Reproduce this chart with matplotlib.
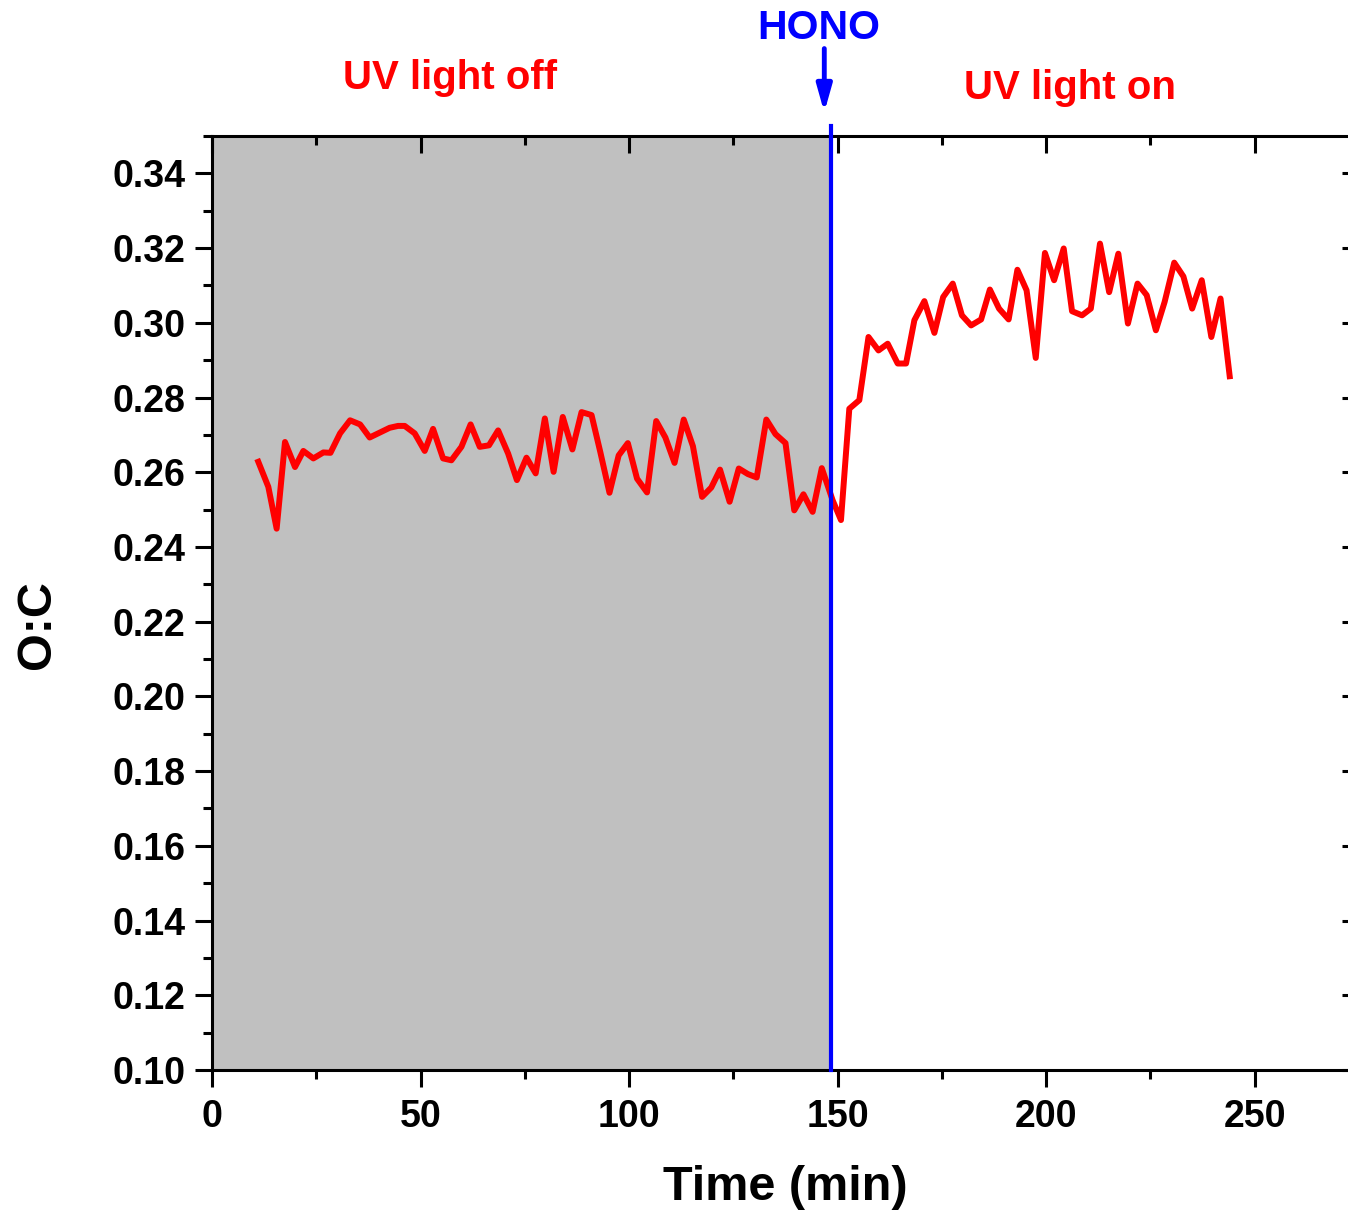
import matplotlib.pyplot as plt
from matplotlib.ticker import MultipleLocator

plt.rcParams['font.family'] = ['Liberation Sans', 'DejaVu Sans']
plt.rcParams['font.weight'] = 'bold'

# O:C time series (min)
time = [11.1, 13.5, 15.5, 17.5, 19.9, 21.9, 24.3, 26.7, 28.4, 30.7,
        33.1, 35.5, 37.8, 40.2, 42.6, 44.6, 46.2, 48.6, 51.0, 53.0,
        55.4, 57.4, 59.8, 62.0, 64.2, 66.4, 68.6, 71.0, 73.1, 75.4,
        77.6, 79.8, 81.9, 84.1, 86.4, 88.6, 91.0, 93.1, 95.3, 97.5,
        99.7, 101.9, 104.3, 106.5, 108.7, 110.9, 113.1, 115.3, 117.5, 119.7,
        121.8, 124.1, 126.3, 128.5, 130.6, 132.9, 135.1, 137.5, 139.6, 141.8,
        144.0, 146.2, 148.8, 150.8, 152.8, 155.2, 157.4, 159.8, 162.0, 164.4,
        166.4, 168.4, 170.8, 173.2, 175.3, 177.6, 179.8, 182.0, 184.4, 186.5,
        188.7, 191.0, 193.1, 195.3, 197.5, 199.7, 201.9, 204.2, 206.2, 208.6,
        210.7, 212.9, 215.1, 217.3, 219.6, 221.9, 224.1, 226.3, 228.4, 230.7,
        232.9, 235.0, 237.3, 239.6, 241.8, 244.0]
oc = [0.2628, 0.2561, 0.2449, 0.2681, 0.2614, 0.2657, 0.2637, 0.2653, 0.2652, 0.2704,
      0.2739, 0.2728, 0.2693, 0.2706, 0.2719, 0.2724, 0.2724, 0.2704, 0.2657, 0.2716,
      0.2637, 0.2632, 0.2668, 0.2728, 0.2668, 0.2672, 0.2712, 0.2650, 0.2579, 0.2639,
      0.2597, 0.2744, 0.2601, 0.2748, 0.2661, 0.2761, 0.2753, 0.2654, 0.2545, 0.2645,
      0.2678, 0.2583, 0.2546, 0.2737, 0.2693, 0.2625, 0.2741, 0.2670, 0.2534, 0.2559,
      0.2607, 0.2521, 0.2610, 0.2595, 0.2586, 0.2741, 0.2702, 0.2678, 0.2498, 0.2541,
      0.2494, 0.2611, 0.2525, 0.2472, 0.2770, 0.2793, 0.2962, 0.2926, 0.2944, 0.2891,
      0.2891, 0.3007, 0.3058, 0.2973, 0.3069, 0.3105, 0.3020, 0.2993, 0.3009, 0.3089,
      0.3038, 0.3009, 0.3142, 0.3087, 0.2906, 0.3187, 0.3114, 0.3199, 0.3031, 0.3020,
      0.3038, 0.3212, 0.3082, 0.3185, 0.2998, 0.3105, 0.3074, 0.2980, 0.3056, 0.3161,
      0.3124, 0.3038, 0.3114, 0.2962, 0.3065, 0.2857]

hono_time = 148.5

fig = plt.figure(figsize=(13.48, 12.12), dpi=100)
ax = fig.add_axes([212 / 1348, 1 - 1070 / 1212, (1359 - 212) / 1348, (1070 - 136) / 1212])

ax.axvspan(0, hono_time - 0.3, color='#c0c0c0', zorder=0)
ax.plot(time, oc, color='red', lw=4.3, zorder=3)
ax.plot([hono_time, hono_time], [0.10, 0.3527], color='blue', lw=3.0,
        clip_on=False, zorder=4)

ax.set_xlim(0, 275)
ax.set_ylim(0.10, 0.35)
ax.xaxis.set_major_locator(MultipleLocator(50))
ax.xaxis.set_minor_locator(MultipleLocator(25))
ax.yaxis.set_major_locator(MultipleLocator(0.02))
ax.yaxis.set_minor_locator(MultipleLocator(0.01))
ax.yaxis.set_major_formatter(plt.FormatStrFormatter('%.2f'))

for s in ax.spines.values():
    s.set_linewidth(2.2)
ax.tick_params(axis='both', which='major', direction='out', length=12, width=2.2,
               labelsize=27)
ax.tick_params(axis='x', which='major', pad=9)
ax.tick_params(axis='y', which='major', pad=7)
ax.tick_params(axis='both', which='minor', direction='out', length=6.5, width=2.2)
ax.tick_params(axis='both', which='both', top=True, right=True)
# mirrored ticks point inward
for t in ax.xaxis.get_major_ticks() + ax.xaxis.get_minor_ticks():
    t.tick2line.set_marker(3)
for t in ax.yaxis.get_major_ticks() + ax.yaxis.get_minor_ticks():
    t.tick2line.set_marker(0)
for lab in ax.get_xticklabels() + ax.get_yticklabels():
    lab.set_fontweight('bold')

ax.annotate('', xy=(146.8, 0.3563), xytext=(146.8, 0.3734), xycoords='data',
            annotation_clip=False,
            arrowprops=dict(arrowstyle='-|>,head_length=1.6,head_width=0.45',
                            color='blue', lw=3.5, shrinkA=0, shrinkB=0))

fig.text(819 / 1348, 1 - 28 / 1212, 'HONO', color='blue', fontsize=29.5,
         fontweight='bold', ha='center', va='center')
fig.text(450 / 1348, 1 - 78 / 1212, 'UV light off', color='red', fontsize=29,
         fontweight='bold', ha='center', va='center')
fig.text(1070 / 1348, 1 - 88 / 1212, 'UV light on', color='red', fontsize=29,
         fontweight='bold', ha='center', va='center')
fig.text(785 / 1348, 1 - 1187 / 1212, 'Time (min)', fontsize=35,
         fontweight='bold', ha='center', va='center')
fig.text(38 / 1348, 1 - 625 / 1212, 'O:C', fontsize=35, rotation=90,
         fontweight='bold', ha='center', va='center')

fig.savefig('out.png', dpi=100)
